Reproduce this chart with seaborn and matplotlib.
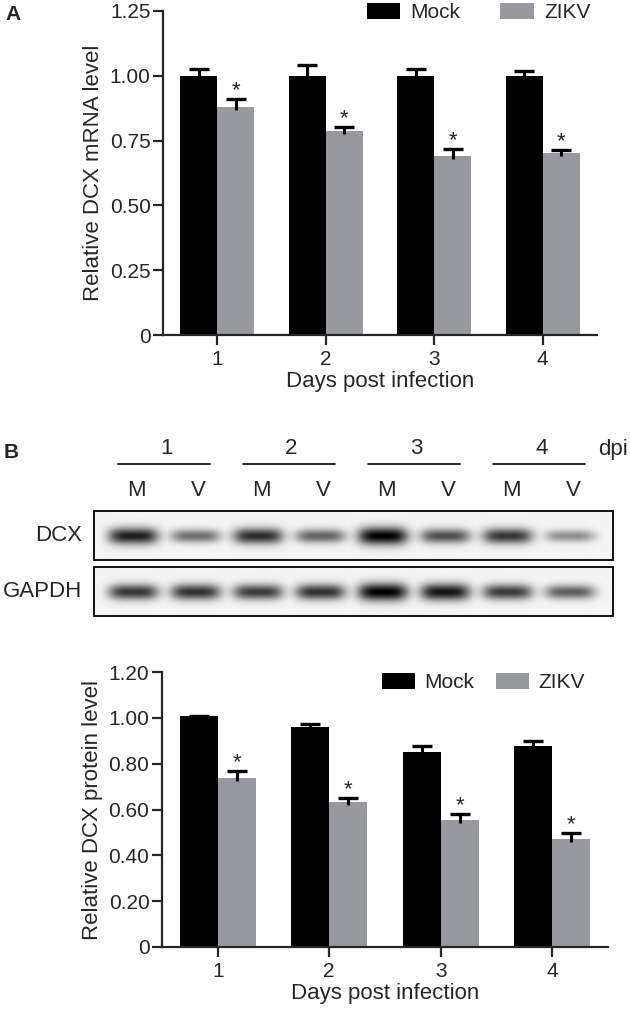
import numpy as np
import pandas as pd
import matplotlib
matplotlib.use('Agg')
import matplotlib.pyplot as plt
from matplotlib.patches import Patch, Rectangle
import seaborn as sns

# ---- data ----
days = ['1', '2', '3', '4']
groups = ['Mock', 'ZIKV']

mrna_mock = [1.00, 1.00, 1.00, 1.00]
mrna_mock_err = [0.027, 0.040, 0.026, 0.020]
mrna_zikv = [0.880, 0.787, 0.690, 0.703]
mrna_zikv_err = [0.030, 0.015, 0.028, 0.012]

prot_mock = [1.010, 0.958, 0.853, 0.878]
prot_mock_err = [0.0, 0.016, 0.022, 0.022]
prot_zikv = [0.738, 0.633, 0.555, 0.472]
prot_zikv_err = [0.030, 0.019, 0.026, 0.026]

mrna_ticks = [0, 0.25, 0.5, 0.75, 1.0, 1.25]
mrna_ticklabels = ['0', '0.25', '0.50', '0.75', '1.00', '1.25']
prot_ticks = [0, 0.2, 0.4, 0.6, 0.8, 1.0, 1.2]
prot_ticklabels = ['0', '0.20', '0.40', '0.60', '0.80', '1.00', '1.20']

# western blot: lane labels and band darkness (0 = none, 1 = black)
lanes = ['M', 'V', 'M', 'V', 'M', 'V', 'M', 'V']
dcx_band = [0.88, 0.55, 0.82, 0.60, 1.00, 0.68, 0.78, 0.42]
gapdh_band = [0.78, 0.80, 0.76, 0.80, 1.00, 0.92, 0.76, 0.62]

BLACK = '#000000'
GRAY = '#97999e'

sns.set_style('ticks')
plt.rcParams['font.family'] = ['Liberation Sans', 'DejaVu Sans']

fig = plt.figure(figsize=(6.3, 10.1), dpi=100)
W, H = 630, 1010

# overlay axes in pixel coords for the blot part
axp = fig.add_axes([0, 0, 1, 1])
axp.set_xlim(0, W)
axp.set_ylim(H, 0)
axp.axis('off')
axp.patch.set_alpha(0)


def bar_panel(ax, mock, mock_err, zikv, zikv_err, ticks, ticklabels, ylabel):
    df = pd.DataFrame({'day': days * 2,
                       'group': ['Mock'] * 4 + ['ZIKV'] * 4,
                       'value': mock + zikv})
    sns.barplot(data=df, x='day', y='value', hue='group', order=days,
                hue_order=groups, palette=[BLACK, GRAY], width=0.68,
                saturation=1, errorbar=None, linewidth=0, ax=ax, legend=False)
    stub = 0.012
    for cont, vals, errs, star in zip(ax.containers, [mock, zikv],
                                      [mock_err, zikv_err], [False, True]):
        xs = [b.get_x() + b.get_width() / 2 for b in cont]
        lows = np.array(vals) - stub
        eb = ax.errorbar(xs, vals, yerr=[[stub] * 4, errs], fmt='none',
                         ecolor='black', elinewidth=2.2, capsize=7.5,
                         capthick=2.4, zorder=3)
        for cap in eb.lines[1]:
            if np.allclose(cap.get_ydata(), lows):
                cap.set_visible(False)
        if star:
            for x, v, e in zip(xs, vals, errs):
                ax.annotate('*', (x, v + e), xytext=(0, 2),
                            textcoords='offset points', ha='center',
                            va='baseline', fontsize=16)
    ax.set_xlim(-0.5, 3.5)
    ax.set_ylim(0, ticks[-1])
    ax.set_yticks(ticks, ticklabels)
    sns.despine(ax=ax)
    for s in ['left', 'bottom']:
        ax.spines[s].set_linewidth(1.6)
    ax.tick_params(length=7, width=1.6, labelsize=15, pad=2)
    ax.tick_params(axis='x', pad=4)
    ax.set_xlabel('Days post infection', fontsize=16, labelpad=1)
    ax.set_ylabel(ylabel, fontsize=16, labelpad=4)


def add_legend(ax, x0, y0, pad1, colsp):
    handles = [Patch(facecolor=BLACK, edgecolor='none'),
               Patch(facecolor=GRAY, edgecolor='none')]
    ax.legend(handles, groups, loc='upper left',
              bbox_to_anchor=(x0 / W, 1 - y0 / H), bbox_transform=fig.transFigure,
              ncol=2, frameon=False, fontsize=15, handlelength=1.6,
              handleheight=0.8, handletextpad=pad1, columnspacing=colsp,
              borderpad=0, borderaxespad=0)


# ---- panel A ----
axA = fig.add_axes([163 / W, 1 - 335 / H, (597 - 163) / W, (335 - 11) / H])
bar_panel(axA, mrna_mock, mrna_mock_err, mrna_zikv, mrna_zikv_err,
          mrna_ticks, mrna_ticklabels, 'Relative DCX mRNA level')
add_legend(axA, 367, 3, 0.5, 1.9)
fig.text(5 / W, 1 - 15 / H, 'A', fontsize=15, fontweight='bold', va='center')

# ---- panel B blot ----
axp.text(4, 452, 'B', fontsize=15, fontweight='bold', va='center')
lane_x = 133 + 62.5 * np.arange(len(lanes))
for i, d in enumerate(days):
    mid = (lane_x[2 * i] + lane_x[2 * i + 1]) / 2
    axp.text(mid + 2, 449, d, fontsize=16, ha='center', va='center')
    axp.plot([mid - 46, mid + 46], [464, 464], color='black', lw=1.2)
axp.text(598, 449, 'dpi', fontsize=16, ha='left', va='center')
for x, lab in zip(lane_x, lanes):
    axp.text(x + 3, 490, lab, fontsize=16, ha='center', va='center')


def blot(y_top, y_bot, yc, dark, label):
    xs = np.arange(94, 614, 1.0)
    ys = np.arange(y_top, y_bot + 1, 1.0)
    X, Y = np.meshgrid(xs, ys)
    img = np.zeros_like(X)
    for x, a in zip(lane_x, dark):
        hh = 4.0 + 5.0 * a
        img += a * np.exp(-(np.abs(X - x) / 25.0) ** 4) * np.exp(-((Y - yc) / hh) ** 2)
    img = 0.96 - 0.96 * np.clip(img, 0, 1)
    axp.imshow(img, cmap='gray', vmin=0, vmax=1, extent=(94, 613, y_bot, y_top),
               aspect='auto', interpolation='bilinear')
    axp.add_patch(Rectangle((94, y_top), 519, y_bot - y_top, fill=False,
                            edgecolor='black', lw=1.3))
    axp.text(82, (y_top + y_bot) / 2, label, fontsize=16, ha='right', va='center')


blot(511, 560, 536, dcx_band, 'DCX')
blot(567, 616, 592, gapdh_band, 'GAPDH')
axp.set_xlim(0, W)
axp.set_ylim(H, 0)

# ---- panel B bars ----
axB = fig.add_axes([162 / W, 1 - 947 / H, (608 - 162) / W, (947 - 672) / H])
bar_panel(axB, prot_mock, prot_mock_err, prot_zikv, prot_zikv_err,
          prot_ticks, prot_ticklabels, 'Relative DCX protein level')
add_legend(axB, 382, 673, 0.45, 1.0)

fig.savefig('out.png', dpi=100)
